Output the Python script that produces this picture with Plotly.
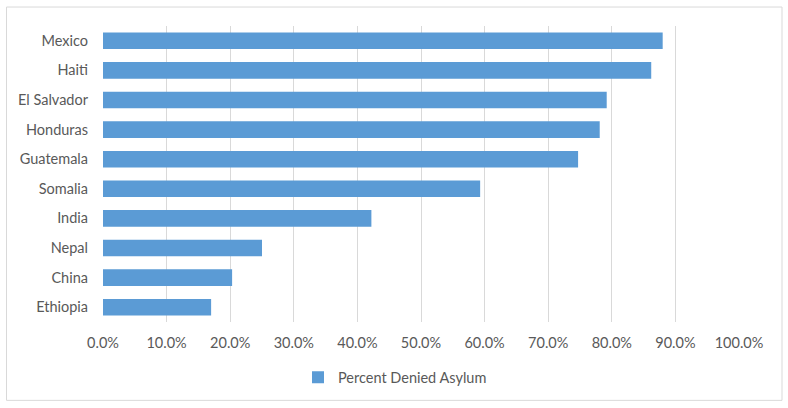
import plotly.graph_objects as go

countries = ["Mexico", "Haiti", "El Salvador", "Honduras", "Guatemala",
             "Somalia", "India", "Nepal", "China", "Ethiopia"]
pct_denied = [0.880, 0.862, 0.792, 0.781, 0.747, 0.593, 0.422, 0.250, 0.203, 0.170]
x_ticks = [i / 10 for i in range(11)]
x_tick_labels = [f"{i*10:.1f}%" for i in range(11)]
series_name = "Percent Denied Asylum"

W, H = 788, 408
L, R, T, B = 103, 49, 26, 85.5
pw, ph = W - L - R, H - T - B

def px_x(p):
    return (p - L) / pw

def px_y(p):
    return (H - B - p) / ph

fig = go.Figure()
fig.add_trace(go.Bar(
    x=pct_denied[::-1], y=countries[::-1], orientation="h",
    name=series_name, marker=dict(color="#5B9BD5", line=dict(width=0)),
    showlegend=True,
))

fig.update_layout(
    width=W, height=H,
    margin=dict(l=L, r=R, t=T, b=B, pad=0),
    paper_bgcolor="white", plot_bgcolor="white",
    font=dict(family="Lato, Open Sans, sans-serif", size=14.5, color="#595959"),
    bargap=0.44,
    showlegend=True,
    legend=dict(orientation="h", x=px_x(298), xanchor="left",
                y=px_y(378), yanchor="middle",
                font=dict(size=14.5, color="#595959"),
                itemwidth=30, bgcolor="rgba(0,0,0,0)"),
    xaxis=dict(range=[0, 1], tickvals=x_ticks, ticktext=x_tick_labels,
               showgrid=True, gridcolor="#D9D9D9", gridwidth=1,
               zeroline=False, showline=False, ticks="",
               ticklabelstandoff=10, fixedrange=True),
    yaxis=dict(showgrid=False, zeroline=False, showline=False, ticks="",
               ticklabelstandoff=14, fixedrange=True),
    shapes=[dict(type="rect", xref="paper", yref="paper",
                 x0=px_x(6.5), x1=px_x(782), y0=px_y(401), y1=px_y(7),
                 line=dict(color="#D9D9D9", width=1), fillcolor="rgba(0,0,0,0)",
                 layer="below")],
)

fig.write_html("out.html", config={"displayModeBar": False},
               post_script="document.body.style.margin='0';")
